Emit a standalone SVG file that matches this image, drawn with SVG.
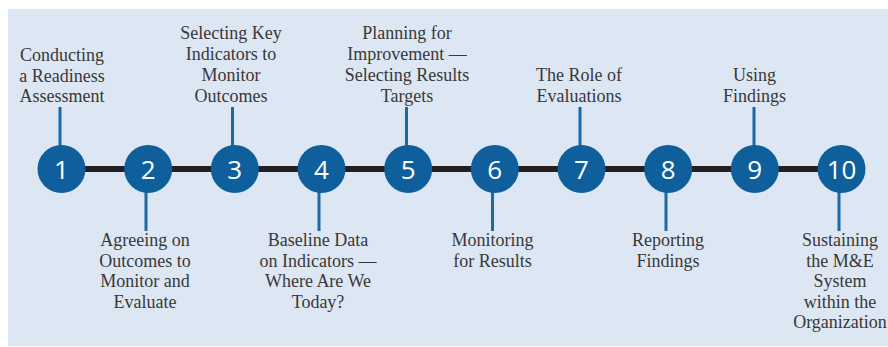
<svg xmlns="http://www.w3.org/2000/svg" width="888" height="347" viewBox="0 0 888 347">
<style>
.lbl{font-family:"Liberation Serif","Times New Roman",serif;font-size:18px;fill:#383838;text-anchor:middle}
.num{font-family:"Open Sans","Liberation Sans",sans-serif;font-size:26px;fill:#ffffff;text-anchor:middle}
.dot{fill:#0f5f9d}
.tick{stroke:#1d69a3;stroke-width:3}
</style>
<rect x="0" y="0" width="888" height="347" fill="#ffffff"/>
<rect x="8" y="9" width="880" height="337" fill="#dde7f3"/>
<g id="connectors">
<line x1="61.5" y1="169" x2="841.5" y2="169" stroke="#231f20" stroke-width="6"/>
<line class="tick" x1="60" y1="107" x2="60" y2="150"/>
<line class="tick" x1="146" y1="188" x2="146" y2="231"/>
<line class="tick" x1="232.5" y1="107" x2="232.5" y2="150"/>
<line class="tick" x1="319" y1="188" x2="319" y2="231"/>
<line class="tick" x1="406.5" y1="107" x2="406.5" y2="150"/>
<line class="tick" x1="492.5" y1="188" x2="492.5" y2="231"/>
<line class="tick" x1="580" y1="107" x2="580" y2="150"/>
<line class="tick" x1="666" y1="188" x2="666" y2="231"/>
<line class="tick" x1="754" y1="107" x2="754" y2="150"/>
<line class="tick" x1="839" y1="188" x2="839" y2="231"/>
</g>
<g id="step1">
<circle class="dot" cx="61.5" cy="169" r="24"/>
<text class="num" x="61.5" y="178.5">1</text>
<text class="lbl" x="62" y="61">Conducting</text>
<text class="lbl" x="62" y="81.5">a Readiness</text>
<text class="lbl" x="62" y="102">Assessment</text>
</g>
<g id="step2">
<circle class="dot" cx="148.2" cy="169" r="24"/>
<text class="num" x="148.2" y="178.5">2</text>
<text class="lbl" x="145" y="246">Agreeing on</text>
<text class="lbl" x="145" y="266.5">Outcomes to</text>
<text class="lbl" x="145" y="287">Monitor and</text>
<text class="lbl" x="145" y="307.5">Evaluate</text>
</g>
<g id="step3">
<circle class="dot" cx="234.8" cy="169" r="24"/>
<text class="num" x="234.8" y="178.5">3</text>
<text class="lbl" x="231" y="39">Selecting Key</text>
<text class="lbl" x="231" y="60">Indicators to</text>
<text class="lbl" x="231" y="81">Monitor</text>
<text class="lbl" x="231" y="102">Outcomes</text>
</g>
<g id="step4">
<circle class="dot" cx="321.5" cy="169" r="24"/>
<text class="num" x="321.5" y="178.5">4</text>
<text class="lbl" x="318" y="246">Baseline Data</text>
<text class="lbl" x="318" y="266.5">on Indicators —</text>
<text class="lbl" x="318" y="287">Where Are We</text>
<text class="lbl" x="318" y="307.5">Today?</text>
</g>
<g id="step5">
<circle class="dot" cx="408.2" cy="169" r="24"/>
<text class="num" x="408.2" y="178.5">5</text>
<text class="lbl" x="407" y="39">Planning for</text>
<text class="lbl" x="407" y="60">Improvement —</text>
<text class="lbl" x="407" y="81">Selecting Results</text>
<text class="lbl" x="407" y="102">Targets</text>
</g>
<g id="step6">
<circle class="dot" cx="494.8" cy="169" r="24"/>
<text class="num" x="494.8" y="178.5">6</text>
<text class="lbl" x="492.5" y="246">Monitoring</text>
<text class="lbl" x="492.5" y="266.5">for Results</text>
</g>
<g id="step7">
<circle class="dot" cx="581.5" cy="169" r="24"/>
<text class="num" x="581.5" y="178.5">7</text>
<text class="lbl" x="579" y="81">The Role of</text>
<text class="lbl" x="579" y="102">Evaluations</text>
</g>
<g id="step8">
<circle class="dot" cx="668.2" cy="169" r="24"/>
<text class="num" x="668.2" y="178.5">8</text>
<text class="lbl" x="668" y="246">Reporting</text>
<text class="lbl" x="668" y="266.5">Findings</text>
</g>
<g id="step9">
<circle class="dot" cx="754.8" cy="169" r="24"/>
<text class="num" x="754.8" y="178.5">9</text>
<text class="lbl" x="754.5" y="81">Using</text>
<text class="lbl" x="754.5" y="102">Findings</text>
</g>
<g id="step10">
<circle class="dot" cx="841.5" cy="169" r="24"/>
<text class="num" x="841.5" y="178.5">10</text>
<text class="lbl" x="840" y="246">Sustaining</text>
<text class="lbl" x="840" y="266.5">the M&amp;E</text>
<text class="lbl" x="840" y="287">System</text>
<text class="lbl" x="840" y="307.5">within the</text>
<text class="lbl" x="840" y="328">Organization</text>
</g>
</svg>
